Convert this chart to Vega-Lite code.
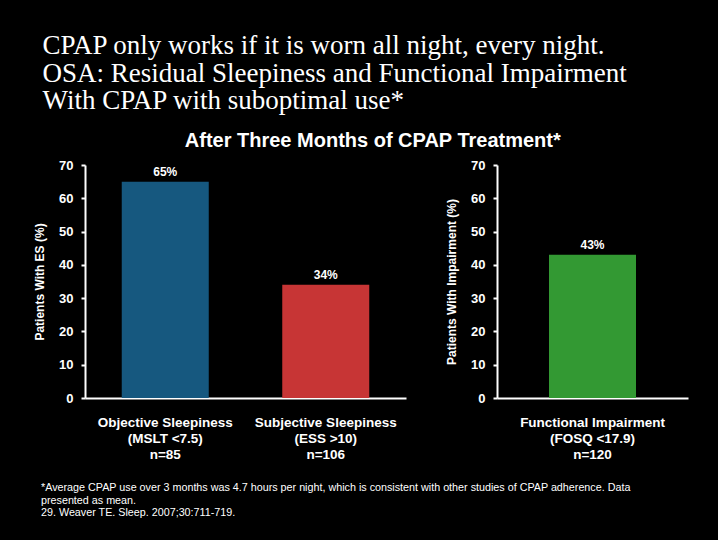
{
  "$schema": "https://vega.github.io/schema/vega-lite/v6.json",
  "background": "black",
  "padding": {"left": 33, "top": 32, "right": 30, "bottom": 24},
  "title": {
    "text": [
      "CPAP only works if it is worn all night, every night.",
      "OSA: Residual Sleepiness and Functional Impairment",
      "With CPAP with suboptimal use*"
    ],
    "anchor": "start",
    "dx": 9,
    "font": "Liberation Serif",
    "fontSize": 27,
    "fontWeight": "normal",
    "lineHeight": 27.5,
    "color": "white",
    "offset": 16
  },
  "datasets": {
    "sleepiness": [
      {"measure": "Objective Sleepiness|(MSLT <7.5)|n=85", "pct": 65, "label": "65%", "colour": "#16587f"},
      {"measure": "Subjective Sleepiness|(ESS >10)|n=106", "pct": 34, "label": "34%", "colour": "#c73535"}
    ],
    "impairment": [
      {"measure": "Functional Impairment|(FOSQ <17.9)|n=120", "pct": 43, "label": "43%", "colour": "#339933"}
    ],
    "footnote": [
      {"line": 1, "text": "*Average CPAP use over 3 months was 4.7 hours per night, which is consistent with other studies of CPAP adherence. Data"},
      {"line": 2, "text": "\u2002\u2002presented as mean."},
      {"line": 3, "text": "29. Weaver TE. Sleep. 2007;30:711-719."}
    ]
  },
  "spacing": 20,
  "vconcat": [
    {
      "title": {
        "text": "After Three Months of CPAP Treatment*",
        "anchor": "middle",
        "dx": 12,
        "font": "Liberation Sans",
        "fontSize": 20,
        "fontWeight": "bold",
        "color": "white",
        "offset": 8
      },
      "spacing": 39,
      "hconcat": [
        {
          "width": 321,
          "height": 233,
          "data": {"name": "sleepiness"},
          "encoding": {
            "x": {
              "field": "measure",
              "type": "nominal",
              "sort": null,
              "title": null,
              "axis": {
                "labelExpr": "split(datum.label, '|')",
                "labelAngle": 0,
                "labelPadding": 17,
                "labelFontSize": 13.5,
                "ticks": false,
                "labelLineHeight": 16.3
              }
            },
            "y": {
              "field": "pct",
              "type": "quantitative",
              "title": "Patients With ES (%)",
              "scale": {"domain": [0, 70]},
              "axis": {"values": [0, 10, 20, 30, 40, 50, 60, 70], "titlePadding": 12}
            }
          },
          "layer": [
            {
              "mark": {"type": "bar", "width": 87},
              "encoding": {"color": {"field": "colour", "type": "nominal", "scale": null}}
            },
            {
              "mark": {"type": "text", "dy": -10, "color": "white", "font": "Liberation Sans", "fontSize": 12, "fontWeight": "bold"},
              "encoding": {"text": {"field": "label"}}
            }
          ]
        },
        {
          "width": 191,
          "height": 233,
          "data": {"name": "impairment"},
          "encoding": {
            "x": {
              "field": "measure",
              "type": "nominal",
              "title": null,
              "axis": {
                "labelExpr": "split(datum.label, '|')",
                "labelAngle": 0,
                "labelPadding": 17,
                "labelFontSize": 13.5,
                "ticks": false,
                "labelLineHeight": 16.3
              }
            },
            "y": {
              "field": "pct",
              "type": "quantitative",
              "title": "Patients With Impairment (%)",
              "scale": {"domain": [0, 70]},
              "axis": {"values": [0, 10, 20, 30, 40, 50, 60, 70], "titlePadding": 12}
            }
          },
          "layer": [
            {
              "mark": {"type": "bar", "width": 87},
              "encoding": {"color": {"field": "colour", "type": "nominal", "scale": null}}
            },
            {
              "mark": {"type": "text", "dy": -10, "color": "white", "font": "Liberation Sans", "fontSize": 12, "fontWeight": "bold"},
              "encoding": {"text": {"field": "label"}}
            }
          ]
        }
      ]
    },
    {
      "width": 600,
      "height": 37.5,
      "data": {"name": "footnote"},
      "mark": {"type": "text", "align": "left", "dx": -44, "color": "white", "font": "Liberation Sans", "fontSize": 10.75},
      "encoding": {
        "x": {"datum": 0, "type": "quantitative", "scale": {"domain": [0, 1]}, "axis": null},
        "y": {"field": "line", "type": "ordinal", "axis": null, "scale": {"paddingOuter": 0, "paddingInner": 0}},
        "text": {"field": "text"}
      }
    }
  ],
  "config": {
    "view": {"stroke": null},
    "axis": {
      "grid": false,
      "domainColor": "white",
      "domainWidth": 2,
      "tickColor": "white",
      "tickWidth": 2,
      "tickSize": 4,
      "labelColor": "white",
      "labelFont": "Liberation Sans",
      "labelFontSize": 13,
      "labelFontWeight": "bold",
      "titleColor": "white",
      "titleFont": "Liberation Sans",
      "titleFontSize": 12,
      "titleFontWeight": "bold",
      "labelPadding": 8
    }
  }
}
